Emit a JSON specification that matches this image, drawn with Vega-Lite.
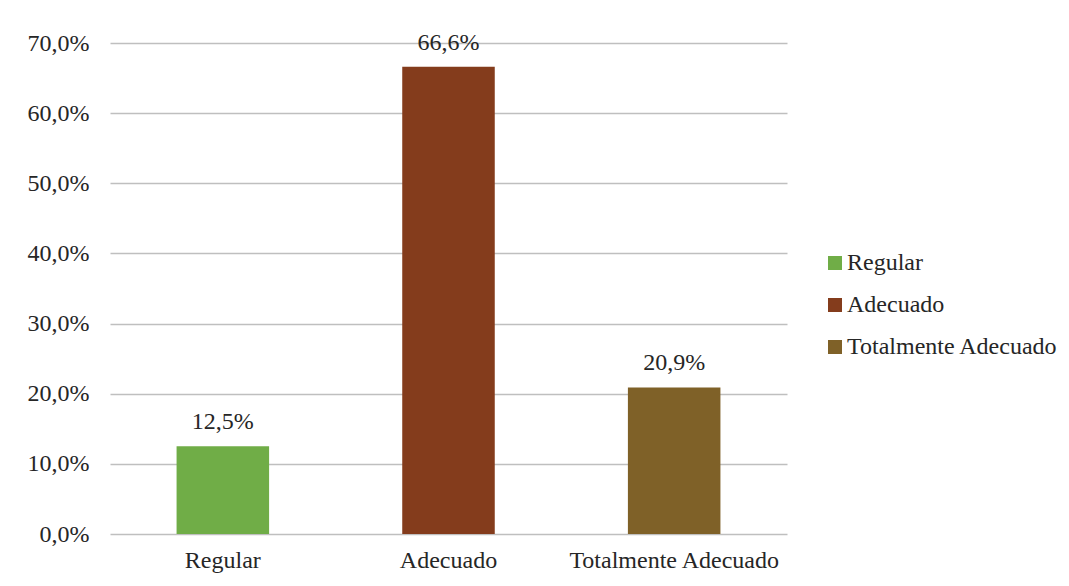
{
  "$schema": "https://vega.github.io/schema/vega-lite/v6.json",
  "autosize": "none",
  "width": 677,
  "height": 491,
  "padding": {"left": 110, "top": 43, "right": 282, "bottom": 52},
  "background": "white",
  "data": {"values": [
    {"cat": "Regular", "v": 0.125},
    {"cat": "Adecuado", "v": 0.666},
    {"cat": "Totalmente Adecuado", "v": 0.209}
  ]},
  "encoding": {
    "x": {"field": "cat", "type": "nominal", "sort": null,
      "scale": {"paddingInner": 0, "paddingOuter": 0},
      "axis": {"title": null, "labelAngle": 0, "domain": false, "ticks": false, "labelPadding": 14, "labelFontSize": 24, "labelFont": "Liberation Serif", "labelColor": "#262626", "grid": false, "labelLimit": 0}},
    "y": {"field": "v", "type": "quantitative", "scale": {"domain": [0, 0.7]},
      "axis": {"title": null, "values": [0,0.1,0.2,0.3,0.4,0.5,0.6,0.7], "labelOverlap": false, "domain": false, "ticks": false, "labelPadding": 21, "labelFontSize": 24, "labelFont": "Liberation Serif", "labelColor": "#262626", "gridColor": "#bfbfbf", "gridWidth": 1.5,
        "labelExpr": "replace(format(datum.value, '.1%'), '.', ',')"}}
  },
  "layer": [
    {"mark": {"type": "bar", "width": {"band": 0.41}},
     "encoding": {"color": {"field": "cat", "type": "nominal", "sort": null,
        "scale": {"domain": ["Regular", "Adecuado", "Totalmente Adecuado"], "range": ["#70AD47", "#843C1C", "#7F6128"]},
        "legend": {"title": null, "orient": "none", "legendX": 713, "legendY": 208, "labelFontSize": 24, "labelFont": "Liberation Serif", "labelColor": "#262626", "labelLimit": 0, "symbolType": "square", "symbolSize": 196, "rowPadding": 18, "labelOffset": 0, "symbolStrokeWidth": 0}}}},
    {"mark": {"type": "text", "baseline": "bottom", "dy": -12, "fontSize": 24, "font": "Liberation Serif", "color": "#262626"},
     "encoding": {"text": {"field": "v", "type": "quantitative", "format": ".1%"}}}
  ],
  "config": {"view": {"stroke": null}, "locale": {"number": {"decimal": ",", "thousands": ".", "grouping": [3], "currency": ["", "€"]}}}
}
